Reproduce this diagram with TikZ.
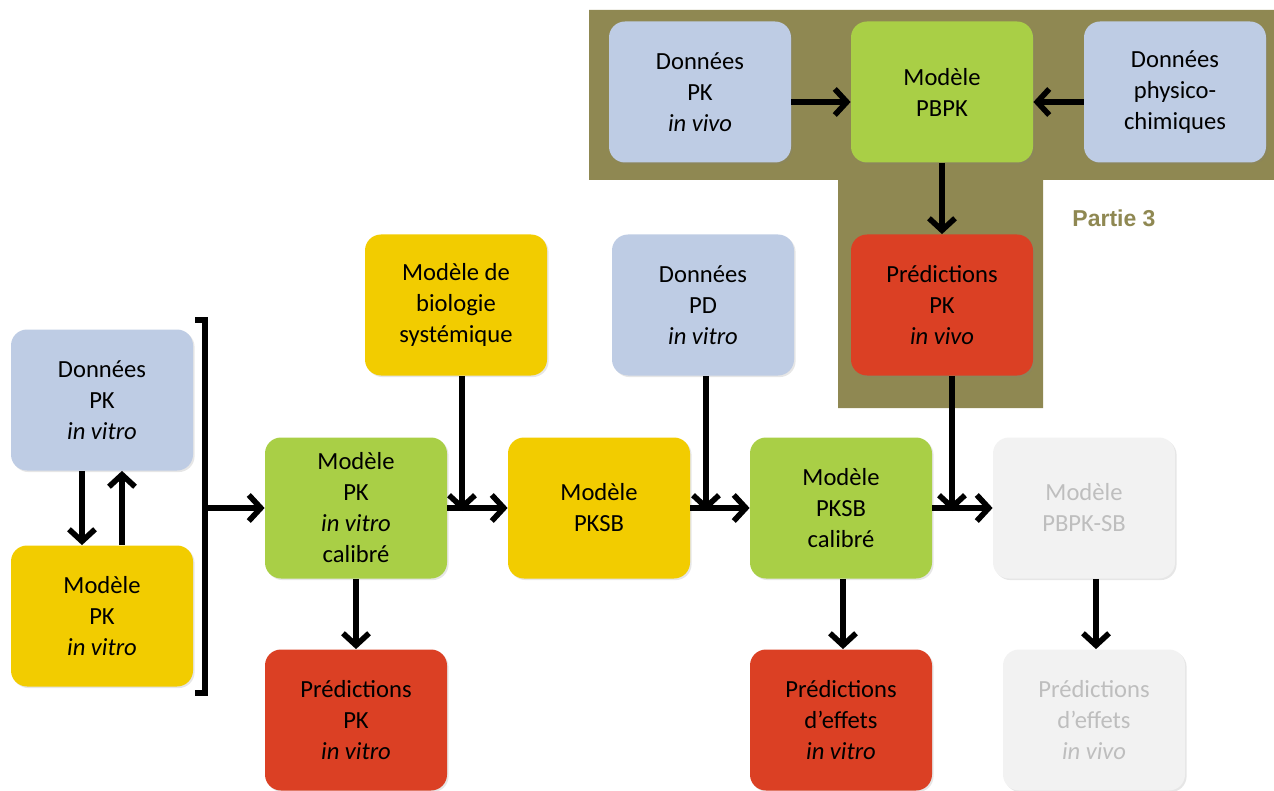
\documentclass[tikz,border=0pt]{standalone}
\usepackage{fontspec}
\setmainfont{Carlito}
\newfontfamily\partiefont{Liberation Sans}
\usepackage{tikz}
\usetikzlibrary{arrows.meta, positioning, shadows}

\definecolor{donnees}{RGB}{190,204,228}
\definecolor{modvert}{RGB}{169,207,70}
\definecolor{modjaune}{RGB}{242,204,0}
\definecolor{predrouge}{RGB}{219,64,36}
\definecolor{futur}{RGB}{242,242,242}
\definecolor{futurtxt}{RGB}{190,190,190}
\definecolor{olive}{RGB}{143,136,82}

\begin{document}
\begin{tikzpicture}[
      x=0.5pt, y=-0.5pt,
      box/.style={rounded corners=8pt, minimum width=91pt,
                  minimum height=70.5pt, inner sep=0pt, align=center,
                  font=\fontsize{12.3}{15.5}\selectfont,
                  drop shadow={opacity=0.2, shadow xshift=0.8pt, shadow yshift=-0.8pt}},
      data/.style={box, fill=donnees},
      green/.style={box, fill=modvert},
      yellow/.style={box, fill=modjaune},
      pred/.style={box, fill=predrouge},
      later/.style={box, fill=futur, text=futurtxt},
      arrow/.style={-{Straight Barb[length=6pt,width=13pt]}, line width=2.8pt}
    ]
    \useasboundingbox (0,0) rectangle (1274,791);
    % partie 3
    \fill[olive] (589,10) -- (1274,10) -- (1274,180) -- (1043,180) -- (1043,408)
                 -- (838,408) -- (838,180) -- (589,180) -- cycle;
    \node[font=\partiefont\bfseries\fontsize{11.5}{13}\selectfont, text=olive] (partie) at (1114,218) {Partie 3};

    \node[data]   (dpkvivo)  at (700,92)  {Données\\PK\\\textit{in vivo}};
    \node[green]  (pbpk)     at (942,92)  {Modèle\\PBPK};
    \node[data]   (dphys)    at (1175,92) {Données\\physico-\\chimiques};
    \node[pred]   (predvivo) at (942,305) {Prédictions\\PK\\\textit{in vivo}};

    \node[data]   (dpkvitro) at (102,400) {Données\\PK\\\textit{in vitro}};
    \node[yellow] (mpkvitro) at (102,616) {Modèle\\PK\\\textit{in vitro}};
    \node[green]  (mpkcal)   at (356,508) {Modèle\\PK\\\textit{in vitro}\\calibré};
    \node[pred]   (predpk)   at (356,720) {Prédictions\\PK\\\textit{in vitro}};
    \node[yellow] (sysbio)   at (456,305) {Modèle de\\biologie\\systémique};
    \node[yellow] (pksb)     at (599,508) {Modèle\\PKSB};
    \node[data]   (dpd)      at (703,305) {Données\\PD\\\textit{in vitro}};
    \node[green]  (pksbcal)  at (841,508) {Modèle\\PKSB\\calibré};
    \node[pred]   (predeff)  at (841,720) {Prédictions\\d’effets\\\textit{in vitro}};
    \node[later]  (pbpksb)   at (1084,508) {Modèle\\PBPK-SB};
    \node[later]  (predinviv) at (1094,720) {Prédictions\\d’effets\\\textit{in vivo}};

    % crochet
    \coordinate (brtop) at (205,320);
    \coordinate (brbot) at (205,693);
    \coordinate (brmid) at (205,508);
    \draw[line width=2.6pt] ([xshift=-5pt]brtop) -- (brtop) -- (brbot) -- ([xshift=-5pt]brbot);

    \draw[arrow] ([yshift=-5pt]dpkvivo.east) -- ([yshift=-5pt]pbpk.west);
    \draw[arrow] ([yshift=-5pt]dphys.west) -- ([yshift=-5pt]pbpk.east);
    \draw[arrow] (pbpk) -- (predvivo);

    \draw[arrow] ([xshift=-10pt]dpkvitro.south) -- ([xshift=-10pt]mpkvitro.north);
    \draw[arrow] ([xshift=10pt]mpkvitro.north) -- ([xshift=10pt]dpkvitro.south);
    \draw[arrow] (brmid) -- (mpkcal.west);
    \draw[arrow] (mpkcal) -- (predpk);
    \draw[arrow] (mpkcal) -- (pksb);
    \draw[arrow] ([xshift=3pt]sysbio.south) -- ([xshift=3pt,yshift=-1.5pt]sysbio.south |- pksb.west);
    \draw[arrow] (pksb) -- (pksbcal);
    \draw[arrow] ([xshift=1.5pt]dpd.south) -- ([xshift=1.5pt,yshift=-1.5pt]dpd.south |- pksbcal.west);
    \draw[arrow] ([xshift=1pt]pksbcal.south) -- ([xshift=1pt]pksbcal.south |- predeff.north);
    \draw[arrow] (pksbcal) -- (pbpksb);
    \draw[arrow] ([xshift=5pt]predvivo.south) -- ([xshift=5pt,yshift=-1.5pt]predvivo.south |- pbpksb.west);
    \draw[arrow] ([xshift=6pt]pbpksb.south) -- ([xshift=6pt]pbpksb.south |- predinviv.north);
  \end{tikzpicture}
\end{document}
